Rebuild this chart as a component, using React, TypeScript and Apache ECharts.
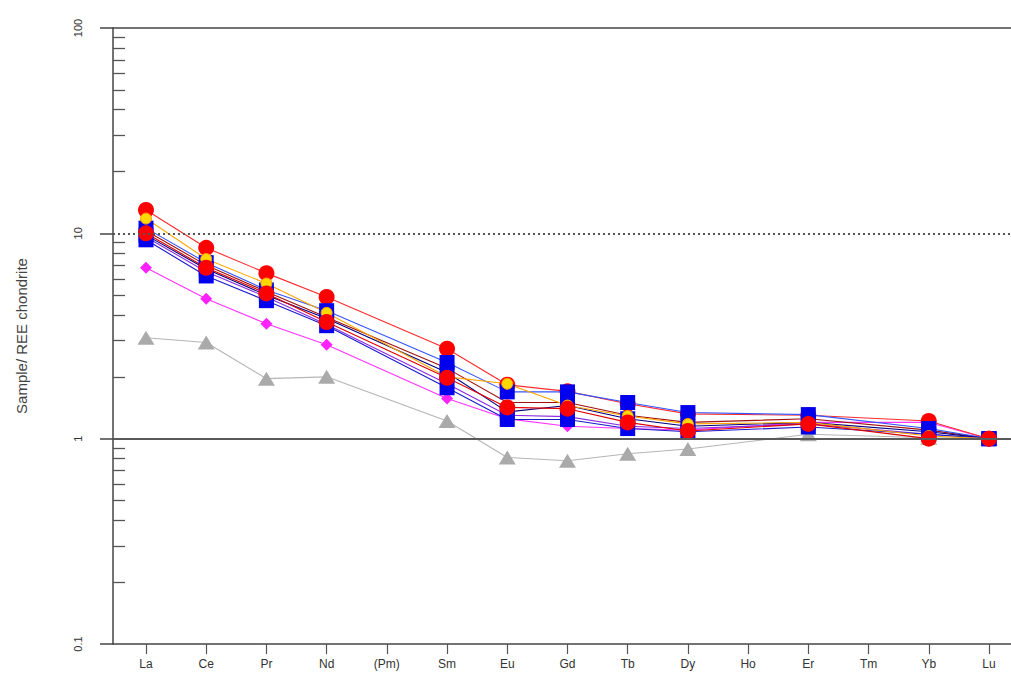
import React, { useEffect, useRef } from "react";
import * as echarts from "echarts";

const CATEGORIES = ["La", "Ce", "Pr", "Nd", "(Pm)", "Sm", "Eu", "Gd", "Tb", "Dy", "Ho", "Er", "Tm", "Yb", "Lu"];
const MINOR_TICKS = [0.2, 0.3, 0.4, 0.5, 0.6, 0.7, 0.8, 0.9, 2, 3, 4, 5, 6, 7, 8, 9, 20, 30, 40, 50, 60, 70, 80, 90];
const REF_LINES = [100, 10, 1];

// sample / chondrite values (null = not analysed)
const GRAY = [3.1, 2.94, 1.96, 2.0, null, 1.22, 0.81, 0.78, 0.845, 0.89, null, 1.05, null, 1.01, 1.0];
const MAGENTA = [6.8, 4.8, 3.63, 2.87, null, 1.57, 1.25, 1.15, 1.12, 1.1, null, 1.2, null, 1.2, 1.0];
const PURPLE = [9.6, 6.5, 4.9, 3.6, null, 1.85, 1.3, 1.28, 1.15, 1.12, null, 1.18, null, 1.05, 1.0];
const DARKRED = [10.3, 7.0, 5.2, 3.9, null, 2.2, 1.5, 1.5, 1.3, 1.2, null, 1.25, null, 1.1, 1.0];
const RED_HIGH = [13, 8.5, 6.4, 4.9, null, 2.74, 1.83, 1.7, 1.48, 1.32, null, 1.3, null, 1.22, 1.0];
const BLUE_HIGH = [10.6, 7.2, 5.3, 4.2, null, 2.35, 1.69, 1.69, 1.5, 1.34, null, 1.31, null, 1.12, 1.0];
const BLUE_MID = [9.8, 6.7, 5.0, 3.85, null, 2.1, 1.35, 1.45, 1.25, 1.15, null, 1.2, null, 1.08, 1.0];
const BLUE_LOW = [9.3, 6.2, 4.7, 3.55, null, 1.77, 1.24, 1.24, 1.12, 1.08, null, 1.14, null, 1.05, 1.0];
const YELLOW = [11.8, 7.5, 5.7, 4.1, null, 2.0, 1.85, 1.45, 1.29, 1.18, null, 1.2, null, 1.03, 1.0];
const RED_LOW = [10, 6.8, 5.1, 3.7, null, 1.98, 1.42, 1.4, 1.2, 1.09, null, 1.18, null, 1.0, 1.0];

const toPairs = (vals: (number | null)[]) =>
  vals.map((v, i) => (v == null ? null : [i, v])).filter((p) => p !== null);

function mkSeries(name: string, vals: (number | null)[], lineColor: string, symbol: string, size: any, fill: string, extra: any = {}) {
  return {
    name,
    type: "line",
    data: toPairs(vals),
    symbol,
    symbolSize: size,
    showSymbol: symbol !== "none",
    lineStyle: { color: lineColor, width: 1.1 },
    itemStyle: { color: fill, borderWidth: 0, ...(extra.itemStyle || {}) },
    z: 3,
    ...extra.rest,
  };
}

export default function App() {
  const ref = useRef<HTMLDivElement>(null);
  useEffect(() => {
    if (!ref.current) return;
    const chart = echarts.init(ref.current, undefined, { renderer: "svg" });
    const font = "Liberation Sans, Arial, sans-serif";
    const series: any[] = [
      mkSeries("gray", GRAY, "#b5b5b5", "triangle", [17, 14], "#aaaaaa", {
        rest: {
          markLine: {
            silent: true,
            symbol: "none",
            label: { show: false },
            data: REF_LINES.map((v) => ({
              yAxis: v,
              lineStyle: {
                color: v === 10 ? "#555555" : v === 1 ? "#5a5a5a" : "#444444",
                width: v === 100 ? 1.5 : 2,
                type: v === 10 ? [2, 3] : "solid",
              },
            })),
          },
        },
      }),
      mkSeries("magenta", MAGENTA, "#ff33ff", "diamond", 12, "#ff22ff"),
      mkSeries("purple", PURPLE, "#8a2be2", "none", 0, "#8a2be2"),
      mkSeries("darkred", DARKRED, "#a01010", "none", 0, "#a01010"),
      mkSeries("red1", RED_HIGH, "#ff2a2a", "circle", 16, "#ff0000"),
      mkSeries("blue1", BLUE_HIGH, "#3355ff", "rect", 15, "#0000ee"),
      mkSeries("blue2", BLUE_MID, "#000080", "rect", 15, "#0000ee"),
      mkSeries("blue3", BLUE_LOW, "#1a1acc", "rect", 15, "#0000ee"),
      mkSeries("yellow", YELLOW, "#ffa500", "circle", 11, "#ffd800", {
        itemStyle: { borderColor: "#ff9900", borderWidth: 1 },
      }),
      mkSeries("red2", RED_LOW, "#e00000", "circle", 16, "#ff0000"),
    ];
    chart.setOption({
      animation: false,
      backgroundColor: "#ffffff",
      grid: { left: 113, right: 0, top: 28, bottom: 39 },
      xAxis: {
        type: "value",
        min: -0.548,
        max: 14.366,
        axisLine: { show: true, onZero: false, lineStyle: { color: "#444444", width: 1.5 } },
        axisTick: {
          show: true,
          length: 10,
          customValues: CATEGORIES.map((_, i) => i),
          lineStyle: { color: "#555555", width: 1.2 },
        },
        axisLabel: {
          customValues: CATEGORIES.map((_, i) => i),
          formatter: (v: number) => CATEGORIES[Math.round(v)] ?? "",
          color: "#333333",
          fontSize: 12,
          fontFamily: font,
          margin: 14,
        },
        splitLine: { show: false },
      },
      yAxis: [
        {
          type: "log",
          logBase: 10,
          min: 0.1,
          max: 100,
          name: "Sample/ REE chondrite",
          nameLocation: "middle",
          nameGap: 84,
          nameRotate: 90,
          nameTextStyle: { color: "#444444", fontSize: 15, fontFamily: font },
          axisLine: { show: true, onZero: false, lineStyle: { color: "#444444", width: 1.5 } },
          axisTick: { show: true, length: 13, lineStyle: { color: "#444444", width: 1.5 } },
          axisLabel: {
            rotate: 90,
            color: "#333333",
            fontSize: 11,
            fontFamily: font,
            margin: 30,
            formatter: (v: number) => String(v),
          },
          splitLine: { show: false },
        },
        {
          type: "value",
          min: -1,
          max: 2,
          position: "left",
          axisLine: { show: false, onZero: false },
          axisLabel: { show: false },
          splitLine: { show: false },
          axisTick: {
            show: true,
            inside: true,
            length: 12,
            customValues: MINOR_TICKS.map((v) => Math.log10(v)),
            lineStyle: { color: "#555555", width: 1.3 },
          },
        },
      ],
      series,
    });
    return () => chart.dispose();
  }, []);
  return <div ref={ref} style={{ position: "fixed", left: 0, top: 0, width: 1011, height: 683 }} />;
}
